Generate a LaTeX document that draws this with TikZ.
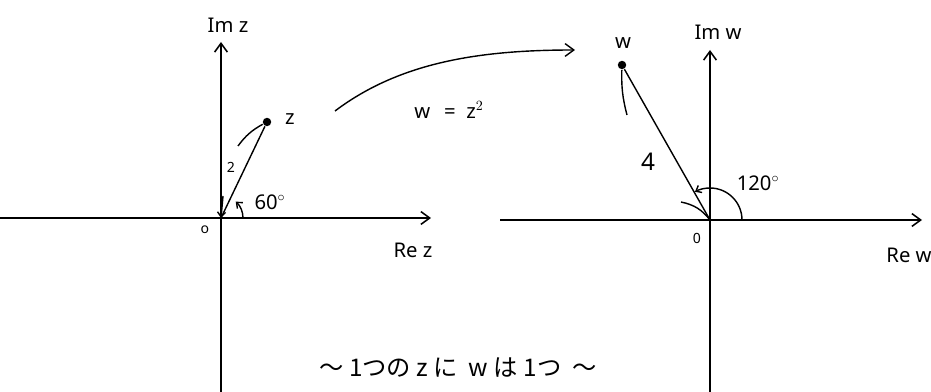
\documentclass[tikz,border=0pt]{standalone}
\usepackage{fontspec}
\setmainfont{Noto Sans}
\newfontfamily\jpfont{Noto Sans CJK JP}
\usetikzlibrary{arrows.meta, positioning, calc}

\begin{document}
\begin{tikzpicture}[x=0.025cm, y=0.025cm, >={Straight Barb[length=2.2mm, width=3.2mm]},
  line width=1pt,
  axis/.style={->, line width=1.1pt},
  lbl/.style={font=\Large\bfseries, inner sep=1pt},
  pt/.style={circle, fill, inner sep=0pt, minimum size=6pt}]
  \useasboundingbox (0,0) rectangle (931,392);

  % z-plane
  \coordinate (o1) at (221,174);
  \coordinate (xl1) at (0,174);
  \coordinate (xr1) at (431,174);
  \coordinate (yb1) at (221,0);
  \coordinate (yt1) at (221,350);
  \draw[axis] (xl1) -- (xr1);
  \draw[axis] (yb1) -- (yt1);
  \node[lbl] (imz) at (228,367) {Im z};
  \node[lbl] (rez) at (413,142) {Re z};
  \node[lbl, font=\normalsize\bfseries] (o1lbl) at (205,162) {o};
  \node[pt] (z) at (267,270) {};
  \node[lbl] (zlbl) at (290,273) {z};
  \draw (o1) -- (z);
  \node[lbl, font=\normalsize\bfseries] (two) at (231,225) {2};
  \coordinate (zm) at (238,246);
  \draw (zm) to[bend left=12] (z);
  \draw[->, >={Straight Barb[length=1.2mm, width=2mm]}] (223,196) -- (o1);
  \draw[->, >={Straight Barb[length=1.2mm, width=2mm]}] (243,174) arc[start angle=0, end angle=48, radius=22];
  \node[lbl, font=\Large] (sixty) at (270,190) {60$^\circ$};

  % mapping
  \node[lbl] (map) at (449,282) {w \ \,=\ \ z$^2$};
  \coordinate (ms) at (335,281);
  \coordinate (me) at (575,342);
  \draw[->] (ms) .. controls (400,330) and (480,342) .. (me);

  % w-plane
  \coordinate (o2) at (710,172);
  \coordinate (xl2) at (500,172);
  \coordinate (xr2) at (922,172);
  \coordinate (yb2) at (710,0);
  \coordinate (yt2) at (710,342);
  \draw[axis] (xl2) -- (xr2);
  \draw[axis] (yb2) -- (yt2);
  \node[lbl] (imw) at (718,360) {Im w};
  \node[lbl] (rew) at (909,137) {Re w};
  \node[lbl, font=\normalsize\bfseries] (o2lbl) at (697,154) {0};
  \node[pt] (w) at (622,327) {};
  \node[lbl] (wlbl) at (623,349) {w};
  \draw (o2) -- (w);
  \node[lbl, font=\LARGE] (four) at (648,230) {4};
  \coordinate (wm) at (627,277);
  \draw (wm) to[bend left=8] (w);
  \coordinate (wb) at (681,190);
  \draw (wb) to[bend left=20] (o2);
  \draw[->, >={Straight Barb[length=1.2mm, width=2mm]}] (742,172) arc[start angle=0, end angle=118, radius=32];
  \node[lbl, font=\Large] (deg) at (758,209) {120$^\circ$};

  % caption
  \node[font=\jpfont\LARGE] (cap) at (458,24) {〜\ 1つの\ z\ に\ \ w\ は\ 1つ\ \ 〜};
\end{tikzpicture}
\end{document}
